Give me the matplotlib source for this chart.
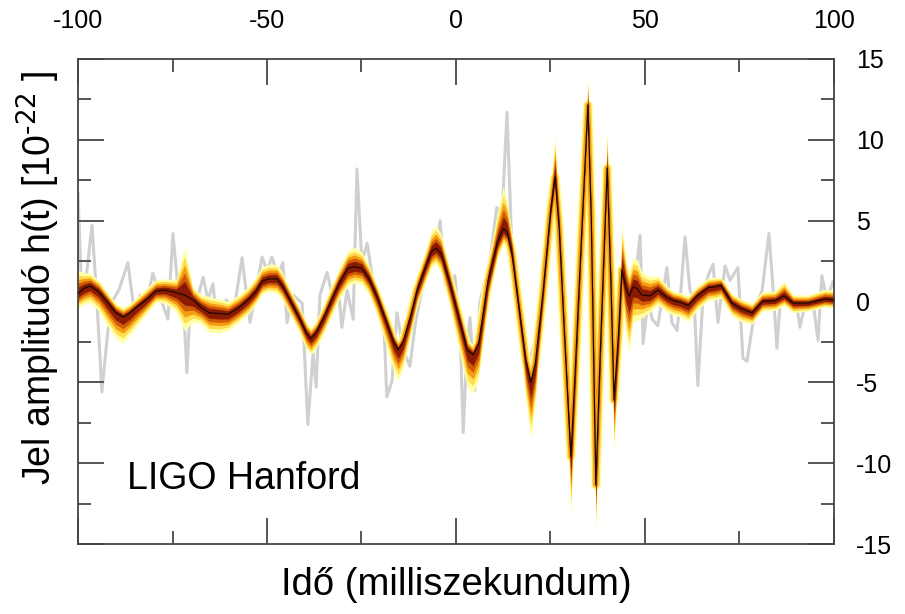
import numpy as np
import matplotlib
matplotlib.use('Agg')
import matplotlib.pyplot as plt
from matplotlib.ticker import MultipleLocator

plt.rcParams['font.family'] = ['Liberation Sans', 'DejaVu Sans']
plt.rcParams['mathtext.default'] = 'regular'
plt.rcParams['axes.unicode_minus'] = False

# reconstructed waveform (median), time in ms, strain in 1e-22
t_med = [-100.0, -98.5, -96.8, -94.5, -92.0, -90.0, -88.1, -86.5, -84.5, -82.0,
         -79.4, -77.0, -74.0, -71.8, -69.6, -67.5, -65.3, -62.5, -60.3, -57.5,
         -55.0, -53.0, -51.3, -49.5, -47.4, -46.0, -44.4, -41.5, -39.5, -38.4,
         -37.0, -35.0, -33.3, -31.0, -28.6, -26.8, -24.9, -23.0, -20.9, -18.5,
         -16.5, -15.3, -14.0, -12.0, -10.3, -8.0, -6.5, -5.3, -4.0, -1.6,
         1.1, 3.0, 4.5, 6.0, 8.5, 11.0, 12.5, 13.5, 14.8, 16.4,
         18.5, 19.8, 21.0, 23.0, 25.0, 26.2, 27.3, 28.8, 30.4, 31.5,
         33.0, 34.9, 35.8, 37.0, 38.2, 40.0, 41.0, 41.8, 43.0, 43.9,
         45.0, 45.8, 46.8, 47.9, 49.2, 51.3, 53.4, 55.8, 57.5, 59.3,
         61.4, 63.8, 66.7, 68.5, 70.1, 73.0, 75.5, 78.3, 81.0, 84.4,
         86.8, 89.2, 93.1, 97.6, 100.0]
h_med = [0.5, 0.8, 0.95, 0.6, -0.1, -0.7, -0.97, -0.75, -0.35, 0.1,
         0.65, 0.7, 0.55, 0.4, 0.1, -0.35, -0.7, -0.75, -0.8, -0.4,
         0.1, 0.6, 1.25, 1.4, 1.4, 1.0, 0.3, -1.0, -2.0, -2.3,
         -1.9, -1.0, -0.1, 1.1, 2.05, 2.15, 2.05, 1.4, 0.3, -1.2,
         -2.5, -3.0, -2.5, -0.9, 0.7, 2.2, 3.1, 3.3, 3.0, 1.1,
         -1.3, -3.0, -3.3, -2.6, 1.3, 3.7, 4.5, 4.3, 3.0, 0.1,
         -3.7, -5.0, -3.8, 0.5, 5.5, 7.7, 4.5, -2.5, -9.6, -4.5,
         3.0, 12.15, 5.0, -11.35, -3.0, 8.25, 1.0, -6.1, -2.0, 1.95,
         0.8, 0.3, 0.9, 0.8, 0.4, 0.35, 0.7, 0.25, 0.05, -0.05,
         -0.25, 0.35, 0.85, 0.9, 1.0, -0.1, -0.45, -0.7, 0.0, 0.05,
         0.35, -0.1, -0.1, 0.15, 0.1]
# outer extent of the credible band above / below the median
band_up = [1.4, 1.0, 0.8, 0.7, 0.6, 0.6, 0.6, 0.6, 0.6, 0.7,
           0.7, 0.7, 0.8, 3.0, 0.8, 0.8, 1.0, 0.9, 0.8, 0.8,
           0.8, 0.9, 0.9, 0.9, 0.9, 0.8, 0.7, 0.7, 0.7, 0.7,
           0.7, 0.8, 0.9, 0.9, 1.1, 1.2, 1.0, 0.8, 0.7, 0.6,
           0.6, 0.6, 0.6, 0.8, 0.9, 1.0, 1.3, 1.4, 1.2, 0.9,
           0.8, 0.7, 0.6, 0.8, 1.2, 1.8, 2.6, 2.0, 1.2, 0.8,
           0.6, 0.5, 0.6, 1.0, 1.8, 2.5, 1.6, 0.8, 0.5, 0.6,
           1.0, 1.8, 1.0, 0.5, 1.0, 2.4, 1.2, 0.6, 1.5, 2.8,
           1.8, 1.5, 1.8, 1.8, 1.4, 1.2, 0.9, 0.7, 0.6, 0.6,
           0.6, 0.6, 0.6, 0.6, 0.5, 0.6, 0.6, 0.6, 0.6, 0.6,
           0.9, 0.5, 0.5, 0.6, 0.6]
band_dn = [0.9, 1.0, 1.0, 1.2, 1.5, 1.6, 1.6, 1.4, 1.2, 0.9,
           0.7, 0.8, 1.2, 2.2, 1.4, 1.0, 1.2, 1.2, 1.0, 0.9,
           0.9, 0.8, 0.8, 0.8, 0.9, 0.9, 0.9, 0.9, 1.0, 1.0,
           1.0, 1.0, 1.0, 1.0, 1.1, 1.0, 1.0, 1.0, 1.2, 1.5,
           1.8, 1.9, 1.6, 1.2, 1.0, 1.0, 1.0, 1.0, 1.2, 1.5,
           2.0, 2.3, 2.4, 2.2, 1.4, 1.0, 1.0, 1.0, 1.2, 1.6,
           2.5, 3.5, 2.5, 1.2, 0.8, 0.8, 1.0, 1.5, 3.6, 2.5,
           1.0, 0.6, 1.5, 2.9, 1.5, 0.6, 1.5, 3.2, 2.5, 1.5,
           3.0, 3.5, 2.2, 2.0, 1.4, 1.0, 0.9, 0.9, 0.9, 0.9,
           1.0, 0.9, 0.8, 0.8, 0.8, 0.8, 0.8, 0.7, 0.6, 0.6,
           0.6, 0.6, 0.5, 0.5, 0.5]

# raw (whitened) detector data
t_raw = [-100.0, -99.2, -98.1, -96.3, -95.0, -93.7, -92.1, -90.7, -89.2, -86.8,
         -85.2, -83.6, -81.7, -80.2, -78.0, -76.2, -74.9, -73.5, -72.2, -71.2,
         -70.1, -68.8, -66.9, -65.6, -64.3, -63.0, -60.8, -58.7, -56.6, -54.5,
         -52.9, -51.3, -50.0, -48.7, -47.1, -45.8, -44.7, -43.1, -40.7, -39.2,
         -37.8, -37.0, -36.0, -34.1, -32.5, -31.2, -30.2, -28.8, -27.2, -26.2,
         -24.9, -23.5, -22.2, -20.6, -19.0, -18.3, -16.9, -15.6, -14.0, -12.2,
         -10.6, -9.0, -6.9, -5.3, -4.2, -2.9, -1.6, -0.3, 1.1, 1.9,
         2.9, 3.7, 5.0, 6.3, 9.0, 10.8, 12.2, 13.5, 14.8, 16.9,
         19.0, 20.9, 23.5, 25.4, 27.0, 28.8, 30.4, 31.7, 33.3, 34.9,
         36.0, 37.0, 38.4, 39.7, 41.0, 42.1, 43.4, 44.7, 46.0, 47.4,
         48.7, 49.5, 50.8, 51.9, 53.4, 54.5, 55.8, 57.1, 58.5, 59.5,
         60.6, 61.9, 63.0, 64.0, 65.3, 66.7, 68.0, 69.3, 71.2, 72.5,
         74.6, 75.9, 77.0, 79.1, 81.0, 82.8, 84.1, 84.9, 86.0, 87.3,
         88.6, 89.9, 91.0, 92.3, 93.7, 94.7, 95.8, 96.8, 98.1, 99.7]
h_raw = [6.7, 1.6, 1.0, 4.7, 0.1, -5.6, -1.8, 0.1, 0.7, 2.4,
         -0.5, 0.4, 0.1, 1.75, 0.1, -1.1, 4.2, 0.7, 0.4, -4.4,
         0.7, -0.2, 1.5, 0.1, 1.1, -1.9, 0.1, -0.5, 2.7, -1.3,
         0.7, 2.75, 1.9, 2.75, 1.6, 2.4, -1.3, 0.4, -0.1, -7.6,
         -3.2, -5.3, 0.4, 1.8, 0.1, 1.0, -1.6, 0.7, -1.1, 8.2,
         2.4, 3.6, 1.6, 0.1, -1.8, -5.9, -4.9, -0.7, -3.0, -4.0,
         -1.1, 0.7, 2.6, 2.9, 5.0, 1.1, 0.7, 1.6, -1.8, -8.1,
         -3.0, -1.0, -5.5, -0.1, 2.6, 5.8, 5.4, 11.7, 3.2, 0.1,
         -4.2, -2.4, 2.6, 6.3, 6.3, -1.8, -8.0, -5.5, 6.3, 10.6,
         3.2, -8.6, -2.4, 6.9, 1.3, -4.9, 0.1, 2.3, -0.5, 1.3,
         4.1, -2.6, 0.1, -1.1, -1.5, 0.1, 2.1, -1.3, -1.8, 0.7,
         4.0, 0.7, 0.1, -5.2, 0.1, 1.6, 2.3, -1.3, 2.2, 1.3,
         2.1, -3.5, -3.7, -0.5, 0.7, 4.2, 0.1, -2.9, 0.7, 0.4,
         -0.5, 0.1, -1.6, -0.2, 0.1, -0.5, -2.4, 1.6, 0.1, 1.2]

x_ticks = [-100, -50, 0, 50, 100]
y_ticks = [-15, -10, -5, 0, 5, 10, 15]

# shading layers: fraction of the outer band, colour, stroke width
layer_frac = [1.0, 0.8, 0.62, 0.45, 0.28]
layer_color = ['#ffffa6', '#ffdc50', '#f59b12', '#cf5a08', '#8a1a02']
layer_lw = [7.0, 5.2, 3.4, 0, 0]

t = np.array(t_med)
h = np.array(h_med)
up = np.array(band_up)
dn = np.array(band_dn)

fig = plt.figure(figsize=(9.05, 6.14), dpi=100)
ax = fig.add_axes([0.0862, 0.114, 0.8353, 0.790])

ax.plot(t_raw, h_raw, color='#d0d0d0', lw=2.2, zorder=1)

for frac, col, lw in zip(layer_frac, layer_color, layer_lw):
    ax.fill_between(t, h - frac * dn, h + frac * up, color=col, lw=0, zorder=2)
    if lw > 0:
        ax.plot(t, h, color=col, lw=lw, solid_joinstyle='round',
                solid_capstyle='round', zorder=2)

ax.plot(t, h, color='#1a0800', lw=0.9, zorder=3)

ax.set_xlim(-100, 100)
ax.set_ylim(-15, 15)
ax.set_xticks(x_ticks)
ax.xaxis.set_minor_locator(MultipleLocator(25))
ax.set_yticks(y_ticks)
ax.yaxis.set_minor_locator(MultipleLocator(2.5))

ax.tick_params(which='both', direction='in', top=True, bottom=True, left=True,
               right=True, labeltop=True, labelbottom=False, labelleft=False,
               labelright=True, color='#555555', labelsize=18)
ax.tick_params(axis='x', which='major', length=19, width=1.4, pad=19)
ax.tick_params(axis='y', which='major', length=19, width=1.4, pad=16)
ax.tick_params(which='minor', length=9.5, width=1.4)
for lab in ax.get_yticklabels():
    lab.set_horizontalalignment('left')

for sp in ax.spines.values():
    sp.set_color('#444444')
    sp.set_linewidth(1.3)

ax.text(-87, -11, 'LIGO Hanford', fontsize=27, va='center', ha='left')

fig.text(0.0862 + 0.8353 / 2, 1 - 585 / 614, 'Idő (milliszekundum)',
         fontsize=27.5, ha='center', va='center')
fig.text(38 / 905, 1 - 278 / 614, r'Jel amplitudó h(t) [10$^{\text{-22}}$ ]',
         fontsize=27, rotation=90, ha='center', va='center')

fig.savefig('out.png', dpi=100, facecolor='white')
